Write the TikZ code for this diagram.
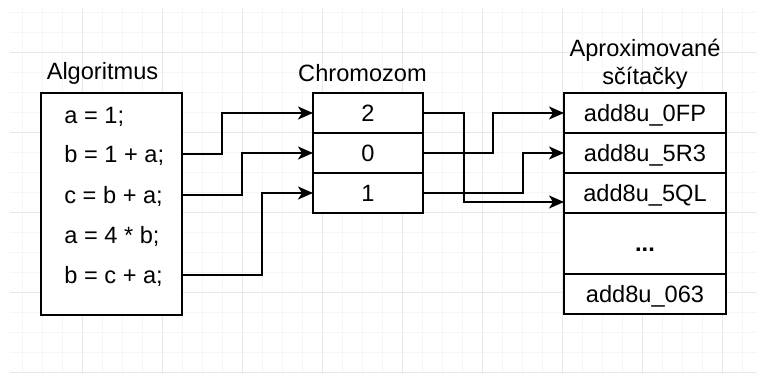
\documentclass[tikz,border=0pt]{standalone}
\usepackage{fontspec}
\setmainfont{Liberation Sans}
\usetikzlibrary{positioning,arrows.meta}
\definecolor{gridminor}{RGB}{246,246,246}
\definecolor{gridmajor}{RGB}{232,232,232}

\begin{document}
\begin{tikzpicture}[
    x=0.5pt, y=-0.5pt,
    font=\fontsize{11.8}{14}\selectfont,
    cell/.style={draw, line width=0.8pt, fill=white, rectangle,
                 inner sep=0pt, outer sep=0pt, text height=8.4pt, text depth=0pt},
    code/.style={anchor=west, inner sep=0pt, text height=8.4pt, text depth=0pt},
    heading/.style={inner sep=0pt, align=center},
    conn/.style={line width=0.8pt, -{Stealth[length=7.5pt, width=6.5pt, inset=2pt]}},
  ]
    \useasboundingbox (0,0) rectangle (757,374);

    % Background grid
    \begin{scope}
      \clip (10,9) rectangle (757,374);
      \draw[gridminor, line width=0.5pt, step=10pt, shift={(2,13)}] (-40,-40) grid (800,400);
      \draw[gridmajor, line width=0.5pt, step=40pt, shift={(2,53)}] (-80,-80) grid (800,400);
    \end{scope}

    % Algorithm
    \node[heading] (algT) at (102.5,73) {Algoritmus};
    \node[cell, minimum width=70.5pt, minimum height=111pt, anchor=north west] (alg) at (41,93) {};
    \node[code] (l1) at (64,115) {a = 1;};
    \node[code] (l2) at (64,154) {b = 1 + a;};
    \node[code] (l3) at (64,195) {c = b + a;};
    \node[code] (l4) at (64,235) {a = 4 * b;};
    \node[code] (l5) at (64,275) {b = c + a;};

    % Chromosome
    \node[heading] (chrT) at (362.5,73) {Chromozom};
    \node[cell, minimum width=55pt, minimum height=20pt, anchor=north west] (g2) at (313,93) {2};
    \node[cell, minimum width=55pt, minimum height=20pt, below=0pt of g2] (g0) {0};
    \node[cell, minimum width=55pt, minimum height=20pt, below=0pt of g0] (g1) {1};

    % Approximate adders
    \node[heading] (addT) at (645,64) {Aproximované\\sčítačky};
    \node[cell, minimum width=81pt, minimum height=20pt, anchor=north west] (a1) at (564,93) {add8u\_0FP};
    \node[cell, minimum width=81pt, minimum height=20pt, below=0pt of a1] (a2) {add8u\_5R3};
    \node[cell, minimum width=81pt, minimum height=20pt, below=0pt of a2] (a3) {add8u\_5QL};
    \node[cell, minimum width=81pt, minimum height=30.5pt, below=0pt of a3] (dots) {\textbf{...}};
    \node[cell, minimum width=81pt, minimum height=20pt, below=0pt of dots] (a64) {add8u\_063};

    % Algorithm lines -> genes
    \draw[conn] (alg.east |- l2) -- ++(40,0) |- (g2.west);
    \draw[conn] (alg.east |- l3) -- ++(60,0) |- (g0.west);
    \draw[conn] (alg.east |- l5) -- ++(80,0) |- (g1.west);

    % Genes -> adders
    \draw[conn] (g2.east) -- ++(41,0) |- ([yshift=-4.5pt]a3.west);
    \draw[conn] (g0.east) -- ++(70,0) |- (a1.west);
    \draw[conn] (g1.east) -- ++(100,0) |- (a2.west);
  \end{tikzpicture}
\end{document}
